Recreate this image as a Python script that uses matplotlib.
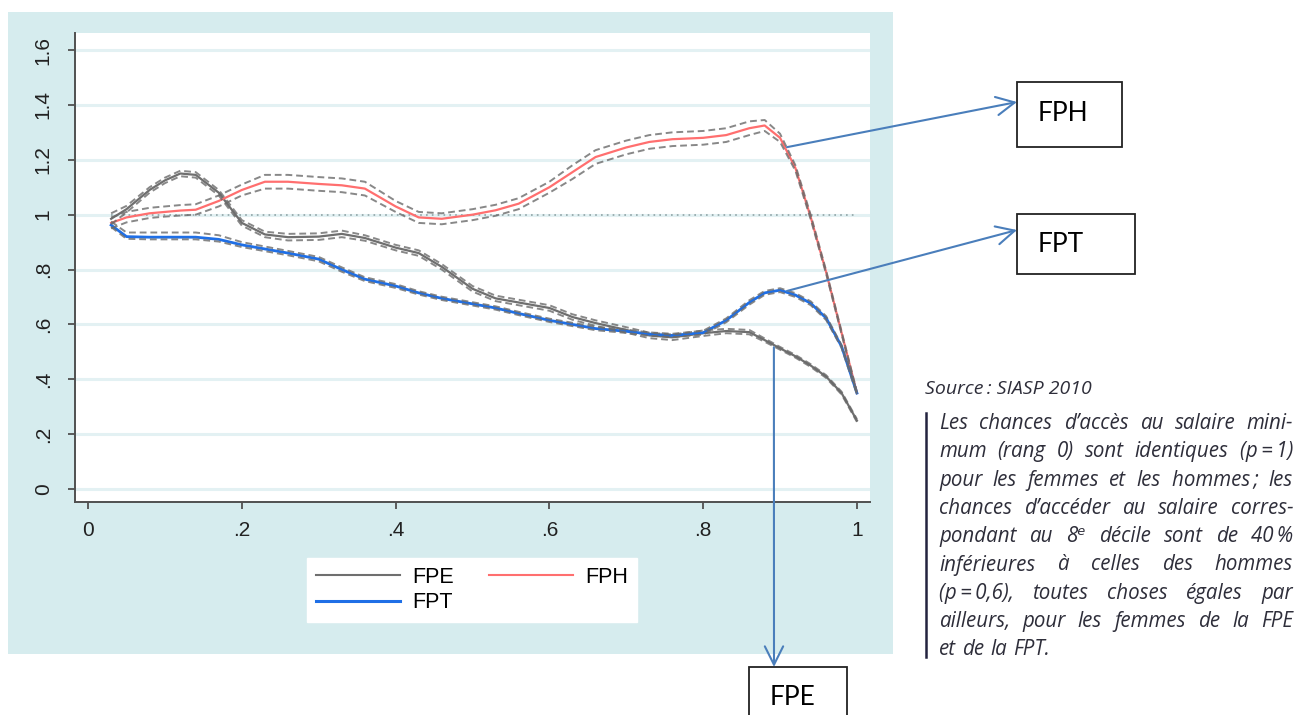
import matplotlib
matplotlib.use('Agg')
import matplotlib.pyplot as plt
from matplotlib.patches import Rectangle, ConnectionPatch
from matplotlib.lines import Line2D

W, H = 1298, 715

# rang salarial (axe x)
rang = [0.03, 0.05, 0.08, 0.10, 0.12, 0.14, 0.17, 0.20, 0.23, 0.26, 0.30, 0.33, 0.36, 0.40,
        0.43, 0.46, 0.50, 0.53, 0.56, 0.60, 0.63, 0.66, 0.70, 0.73, 0.76, 0.80, 0.83, 0.86,
        0.88, 0.90, 0.92, 0.94, 0.96, 0.98, 1.00]

fpe = [0.985, 1.02, 1.09, 1.125, 1.15, 1.145, 1.08, 0.97, 0.928, 0.918, 0.92, 0.93, 0.915, 0.88,
       0.86, 0.81, 0.73, 0.695, 0.68, 0.66, 0.627, 0.605, 0.58, 0.56, 0.553, 0.568, 0.576, 0.572,
       0.543, 0.513, 0.484, 0.45, 0.41, 0.35, 0.25]
fpe_hi = [1.005, 1.032, 1.10, 1.135, 1.16, 1.155, 1.09, 0.98, 0.938, 0.93, 0.932, 0.942, 0.925, 0.89,
          0.87, 0.82, 0.74, 0.705, 0.69, 0.67, 0.637, 0.615, 0.59, 0.57, 0.563, 0.578, 0.584, 0.58,
          0.549, 0.518, 0.489, 0.455, 0.415, 0.355, 0.255]
fpe_lo = [0.965, 1.008, 1.08, 1.115, 1.14, 1.135, 1.07, 0.96, 0.918, 0.906, 0.908, 0.918, 0.905, 0.87,
          0.85, 0.80, 0.72, 0.685, 0.67, 0.65, 0.617, 0.595, 0.57, 0.55, 0.543, 0.558, 0.568, 0.564,
          0.537, 0.508, 0.479, 0.445, 0.405, 0.345, 0.245]

fpt = [0.962, 0.92, 0.918, 0.918, 0.918, 0.918, 0.91, 0.89, 0.875, 0.86, 0.838, 0.80, 0.765, 0.74,
       0.715, 0.695, 0.675, 0.66, 0.64, 0.615, 0.6, 0.585, 0.575, 0.565, 0.56, 0.57, 0.615, 0.68,
       0.715, 0.725, 0.707, 0.677, 0.623, 0.52, 0.35]
fpt_hi = [0.975, 0.935, 0.935, 0.935, 0.935, 0.935, 0.925, 0.9, 0.884, 0.868, 0.846, 0.808, 0.772, 0.747,
          0.721, 0.701, 0.681, 0.666, 0.646, 0.621, 0.606, 0.591, 0.581, 0.571, 0.566, 0.577, 0.622, 0.688,
          0.722, 0.732, 0.714, 0.684, 0.63, 0.525, 0.355]
fpt_lo = [0.955, 0.912, 0.91, 0.91, 0.91, 0.91, 0.902, 0.882, 0.867, 0.852, 0.83, 0.792, 0.758, 0.733,
          0.709, 0.689, 0.669, 0.654, 0.634, 0.609, 0.594, 0.579, 0.569, 0.559, 0.554, 0.563, 0.608, 0.672,
          0.708, 0.718, 0.7, 0.67, 0.616, 0.515, 0.345]

fph = [0.97, 0.99, 1.005, 1.01, 1.015, 1.018, 1.05, 1.09, 1.12, 1.12, 1.112, 1.107, 1.095, 1.03,
       0.99, 0.985, 1.0, 1.016, 1.04, 1.10, 1.155, 1.21, 1.245, 1.265, 1.275, 1.28, 1.29, 1.315,
       1.325, 1.28, 1.17, 0.99, 0.79, 0.57, 0.35]
fph_hi = [0.99, 1.01, 1.025, 1.03, 1.035, 1.038, 1.07, 1.11, 1.145, 1.145, 1.137, 1.132, 1.12, 1.05,
          1.01, 1.005, 1.02, 1.036, 1.06, 1.12, 1.18, 1.235, 1.27, 1.29, 1.30, 1.305, 1.315, 1.34,
          1.345, 1.295, 1.18, 0.998, 0.796, 0.575, 0.354]
fph_lo = [0.95, 0.972, 0.988, 0.993, 0.997, 1.0, 1.03, 1.07, 1.095, 1.095, 1.087, 1.082, 1.07, 1.01,
          0.97, 0.965, 0.98, 0.996, 1.02, 1.08, 1.13, 1.185, 1.22, 1.24, 1.25, 1.255, 1.265, 1.29,
          1.305, 1.265, 1.16, 0.982, 0.784, 0.565, 0.346]

xticks = [0, 0.2, 0.4, 0.6, 0.8, 1.0]
xlabels = ['0', '.2', '.4', '.6', '.8', '1']
yticks = [0, 0.2, 0.4, 0.6, 0.8, 1.0, 1.2, 1.4, 1.6]
ylabels = ['0', '.2', '.4', '.6', '.8', '1', '1.2', '1.4', '1.6']

# points des courbes d'ou partent les fleches
arrow_fph = (0.909, 1.246)
arrow_fpt = (0.909, 0.722)
arrow_fpe = (0.892, 0.517)

note_lines = [
    "Les chances d\u2019acc\u00e8s au salaire mini-",
    "mum (rang 0) sont identiques (p\u2009=\u20091)",
    "pour les femmes et les hommes\u2009; les",
    "chances d\u2019acc\u00e9der au salaire corres-",
    "pondant au 8\u1d49 d\u00e9cile sont de 40\u2009%",
    "inf\u00e9rieures \u00e0 celles des hommes",
    "(p\u2009=\u20090,6), toutes choses \u00e9gales par",
    "ailleurs, pour les femmes de la FPE",
    "et de la FPT.",
]

c_fpe = '#6f6f6f'
c_fpt = '#1f6fe6'
c_fph = '#ff6f6f'
c_band = '#6a6a6a'
c_arrow = '#4a7ebb'
c_teal = '#d6ecee'


def fx(px):
    return px / W


def fy(py):
    return 1 - py / H


fig = plt.figure(figsize=(W / 100, H / 100), dpi=100)
fig.patch.set_facecolor('white')

# fond bleu-vert du graphique Stata
fig.add_artist(Rectangle((fx(8), fy(654)), fx(893) - fx(8), fy(12) - fy(654),
                         transform=fig.transFigure, facecolor=c_teal, edgecolor='none', zorder=-5))

ax = fig.add_axes([fx(75), fy(502), fx(870) - fx(75), fy(33) - fy(502)])
ax.set_facecolor('white')
ax.set_xlim(-0.017, 1.017)
ax.set_ylim(-0.047, 1.662)

for v in yticks:
    ax.axhline(v, color='#e3f1f3', lw=2.2, zorder=0)
ax.hlines(1, rang[0], rang[-1], colors='#8fa3a6', linestyles=(0, (1, 2.5)), lw=1.2, zorder=1)

dash = (0, (3.5, 2))
ax.plot(rang, fpe, color=c_fpe, lw=1.6, zorder=3)
ax.plot(rang, fph, color=c_fph, lw=1.6, zorder=3)
ax.plot(rang, fpt, color=c_fpt, lw=2.0, zorder=3)
for s in (fpe_hi, fpe_lo, fpt_hi, fpt_lo, fph_hi, fph_lo):
    ax.plot(rang, s, color=c_band, lw=1.4, ls=dash, alpha=0.8, zorder=4)

for sp in ('top', 'right'):
    ax.spines[sp].set_visible(False)
for sp in ('left', 'bottom'):
    ax.spines[sp].set_color('#505050')
    ax.spines[sp].set_linewidth(1.4)

ax.set_xticks(xticks)
ax.set_xticklabels(xlabels)
ax.set_yticks(yticks)
ax.set_yticklabels(ylabels)
ax.tick_params(axis='both', direction='out', length=5, width=1.3, color='#505050',
               labelsize=15, labelcolor='#222222')
ax.tick_params(axis='y', pad=11, labelrotation=90)
ax.tick_params(axis='x', pad=9)
for lab in ax.get_yticklabels():
    lab.set_va('center')
    lab.set_family('Liberation Sans')
for lab in ax.get_xticklabels():
    lab.set_family('Liberation Sans')

handles = [Line2D([], [], color=c_fpe, lw=1.5),
           Line2D([], [], color=c_fpt, lw=2.2),
           Line2D([], [], color=c_fph, lw=1.5)]
fig.legend(handles, ['FPE', 'FPT', 'FPH'], ncol=2, loc='center',
           bbox_to_anchor=(fx(472), fy(590)), frameon=True, fancybox=False,
           edgecolor='white', facecolor='white', framealpha=1,
           prop={'family': 'Liberation Sans', 'size': 15.5},
           handlelength=3.9, handletextpad=0.6, columnspacing=1.6,
           labelspacing=0.22, borderpad=0.4)

# encadres FPH / FPT / FPE
boxes = [('FPH', 1017, 82, 1122, 147, 1038, 121),
         ('FPT', 1017, 214, 1135, 274, 1038, 252),
         ('FPE', 749, 667, 847, 740, 770, 705)]
for name, x0, y0, x1, y1, tx, ty in boxes:
    fig.add_artist(Rectangle((fx(x0), fy(y1)), fx(x1) - fx(x0), fy(y0) - fy(y1),
                             transform=fig.transFigure, facecolor='white',
                             edgecolor='#222222', lw=1.3, zorder=5))
    fig.text(fx(tx), fy(ty), name, family='Lato', fontsize=19, color='black',
             va='baseline', ha='left', zorder=6)

for start, end in ((arrow_fph, (1017, 102)), (arrow_fpt, (1017, 230)), (arrow_fpe, (774, 667))):
    con = ConnectionPatch(xyA=start, coordsA='data', axesA=ax,
                          xyB=(end[0], H - end[1]), coordsB='figure pixels',
                          arrowstyle='->,head_length=0.6,head_width=0.3', mutation_scale=22,
                          color=c_arrow, lw=1.5, shrinkA=0, shrinkB=0, zorder=7)
    fig.add_artist(con)

# texte de source et commentaire
txt_col = '#2e2e3a'
fig.text(fx(925), fy(394), 'Source\u2009: SIASP 2010', family=['Open Sans', 'DejaVu Sans'],
         style='italic', fontsize=14, color=txt_col, va='baseline')
fig.add_artist(Line2D([fx(926), fx(926)], [fy(413), fy(657)], transform=fig.transFigure,
                      color='#23233f', lw=1.8))

renderer = fig.canvas.get_renderer()
x_left, x_right = 939, 1293
for i, line in enumerate(note_lines):
    yb = 429 + i * 28.3
    words = line.split(' ')
    ts = [fig.text(0, fy(yb), w, family=['Open Sans', 'DejaVu Sans'], style='italic',
                   fontsize=14.8, color=txt_col, va='baseline', ha='left') for w in words]
    widths = [t.get_window_extent(renderer).width for t in ts]
    if i == len(note_lines) - 1:
        gap = 6
    else:
        gap = (x_right - x_left - sum(widths)) / (len(words) - 1)
    x = x_left
    for t, w in zip(ts, widths):
        t.set_x(fx(x))
        x += w + gap

fig.savefig('out.png', dpi=100)
